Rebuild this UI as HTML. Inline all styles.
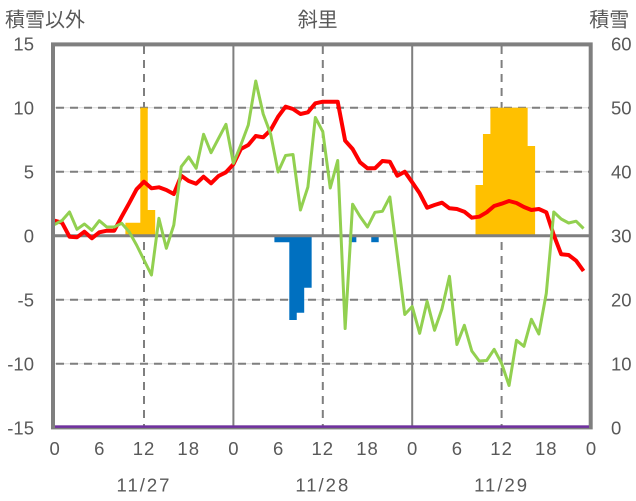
<!DOCTYPE html>
<html><head><meta charset="utf-8">
<style>
html,body{margin:0;padding:0;background:#fff;}
svg{display:block;}
text{font-family:"Liberation Sans","Noto Sans CJK JP",sans-serif;fill:#595959;}
.t{font-size:20px;}
.n{font-size:18.5px;}
</style></head>
<body>
<svg width="636" height="501" viewBox="0 0 636 501" xmlns="http://www.w3.org/2000/svg">
<g stroke="#d9d9d9" stroke-width="1">
<line x1="55" y1="107.7" x2="589" y2="107.7"/>
<line x1="55" y1="171.7" x2="589" y2="171.7"/>
<line x1="55" y1="299.7" x2="589" y2="299.7"/>
<line x1="55" y1="363.7" x2="589" y2="363.7"/>
</g>
<g stroke="#7f7f7f" stroke-width="2" stroke-dasharray="8 6">
<line x1="56" y1="107.7" x2="589" y2="107.7"/>
<line x1="56" y1="171.7" x2="589" y2="171.7"/>
<line x1="56" y1="299.7" x2="589" y2="299.7"/>
<line x1="56" y1="363.7" x2="589" y2="363.7"/>
<line x1="144" y1="46" x2="144" y2="426"/>
<line x1="322.8" y1="46" x2="322.8" y2="426"/>
<line x1="501.6" y1="46" x2="501.6" y2="426"/>
</g>
<g stroke="#7f7f7f" stroke-width="2">
<line x1="233.4" y1="44" x2="233.4" y2="427"/>
<line x1="412.2" y1="44" x2="412.2" y2="427"/>
</g>
<!-- orange bars -->
<g fill="#FFC000">
<polygon points="125.4,235.7 125.4,222.7 140.3,222.7 140.3,107.7 147.75,107.7 147.75,210 155.2,210 155.2,235.7"/>
<polygon points="475.5,235.7 475.5,185 482.95,185 482.95,134 490.4,134 490.4,107.7 527.65,107.7 527.65,146 535.1,146 535.1,235.7"/>
</g>
<!-- blue bars -->
<g fill="#0070C0">
<polygon points="274.4,235.7 311.65,235.7 311.65,287.7 304.2,287.7 304.2,312.7 296.75,312.7 296.75,320 289.3,320 289.3,242.2 274.4,242.2"/>
<rect x="348.9" y="235.7" width="7.45" height="6.5"/>
<rect x="371.25" y="235.7" width="7.45" height="6.5"/>
</g>
<line x1="53" y1="235.7" x2="590.7" y2="235.7" stroke="#7f7f7f" stroke-width="3"/>
<polyline fill="none" stroke="#FF0000" stroke-width="4" stroke-linejoin="round" points="
54.6,220.7 62.05,222.7 69.5,236.7 76.95,237.3 84.4,231.7 91.85,238.3 99.3,232.3 106.75,230.7 114.2,230.7 121.65,216.7
129.1,203.3 136.55,189.3 144,181.7 151.45,188.3 158.9,187.3 166.35,190 173.8,194 181.25,175.7 188.7,181 196.15,183.7
203.6,176.7 211.05,183.3 218.5,176 225.95,172.3 233.4,164.3 240.85,149 248.3,145 255.75,136 263.2,137.3 270.65,130
278.1,116.7 285.55,106.7 293,109 300.45,114 307.9,112.3 315.35,103.3 322.8,101.7 330.25,101.7 337.7,101.7 345.15,140.7
352.6,149 360.05,162.3 367.5,168.3 374.95,168.3 382.4,161 389.85,161.7 397.3,175.7 404.75,171.7 412.2,182.3 419.65,193.3
427.1,207.7 434.55,205 442,202.7 449.45,208.3 456.9,209 464.35,211.7 471.8,217.7 479.25,216.7 486.7,212.3 494.15,206
501.6,203.7 509.05,201 516.5,203 523.95,207 531.4,210 538.85,209 546.3,212.3 553.75,235 561.2,254.3 568.65,255
576.1,260.7 583.55,271"/>
<polyline fill="none" stroke="#92D050" stroke-width="3" stroke-linejoin="round" points="
54.6,224.5 62.05,220.5 69.5,212 76.95,229.3 84.4,224 91.85,230.3 99.3,220.7 106.75,227 114.2,227 121.65,223.3
129.1,231.7 136.55,245 144,260 151.45,275 158.9,218.3 166.35,248.3 173.8,225 181.25,166.7 188.7,157 196.15,168.3
203.6,134.3 211.05,152.7 218.5,138.5 225.95,124.3 233.4,163.3 240.85,145 248.3,125 255.75,81 263.2,114 270.65,134
278.1,172 285.55,155.5 293,154.5 300.45,210 307.9,187 315.35,117.5 322.8,131.7 330.25,188 337.7,160.5 345.15,328.5
352.6,204.2 360.05,216.5 367.5,227 374.95,212.3 382.4,211.3 389.85,197 397.3,255 404.75,314.5 412.2,306.5 419.65,333.3
427.1,301.3 434.55,330.3 442,308.7 449.45,276.3 456.9,344.5 464.35,325.3 471.8,351 479.25,361 486.7,360.5 494.15,349.3
501.6,363.3 509.05,385.5 516.5,340.3 523.95,346.3 531.4,319.3 538.85,334 546.3,293.3 553.75,212 561.2,219 568.65,223
576.1,221.2 583.55,228.5"/>
<rect x="53" y="44.4" width="537.7" height="383" fill="none" stroke="#7f7f7f" stroke-width="4"/>
<line x1="55" y1="426.6" x2="589" y2="426.6" stroke="#7030A0" stroke-width="2.5"/>
<text class="t" x="5" y="26.5">積雪以外</text>
<text class="t" x="317.7" y="26.5" text-anchor="middle">斜里</text>
<text class="t" x="589.3" y="26.5">積雪</text>
<g text-anchor="end">
<text class="n" x="34" y="50.3">15</text>
<text class="n" x="34" y="114.3">10</text>
<text class="n" x="34" y="178.3">5</text>
<text class="n" x="34" y="242.3">0</text>
<text class="n" x="34" y="306.3">-5</text>
<text class="n" x="34" y="370.3">-10</text>
<text class="n" x="34" y="434.3">-15</text>
</g>
<g>
<text class="n" x="611" y="50.3">60</text>
<text class="n" x="611" y="114.3">50</text>
<text class="n" x="611" y="178.3">40</text>
<text class="n" x="611" y="242.3">30</text>
<text class="n" x="611" y="306.3">20</text>
<text class="n" x="611" y="370.3">10</text>
<text class="n" x="611" y="434.3">0</text>
</g>
<g text-anchor="middle">
<text class="n" x="54.6" y="455">0</text>
<text class="n" x="99.3" y="455">6</text>
<text class="n" x="144" y="455" letter-spacing="1">12</text>
<text class="n" x="188.7" y="455" letter-spacing="1">18</text>
<text class="n" x="233.4" y="455">0</text>
<text class="n" x="278.1" y="455">6</text>
<text class="n" x="322.8" y="455" letter-spacing="1">12</text>
<text class="n" x="367.5" y="455" letter-spacing="1">18</text>
<text class="n" x="412.2" y="455">0</text>
<text class="n" x="456.9" y="455">6</text>
<text class="n" x="501.6" y="455" letter-spacing="1">12</text>
<text class="n" x="546.3" y="455" letter-spacing="1">18</text>
<text class="n" x="591" y="455">0</text>
<text class="n" x="144" y="491.5" letter-spacing="2">11/27</text>
<text class="n" x="322.8" y="491.5" letter-spacing="2">11/28</text>
<text class="n" x="501.6" y="491.5" letter-spacing="2">11/29</text>
</g>
</svg>
</body></html>
